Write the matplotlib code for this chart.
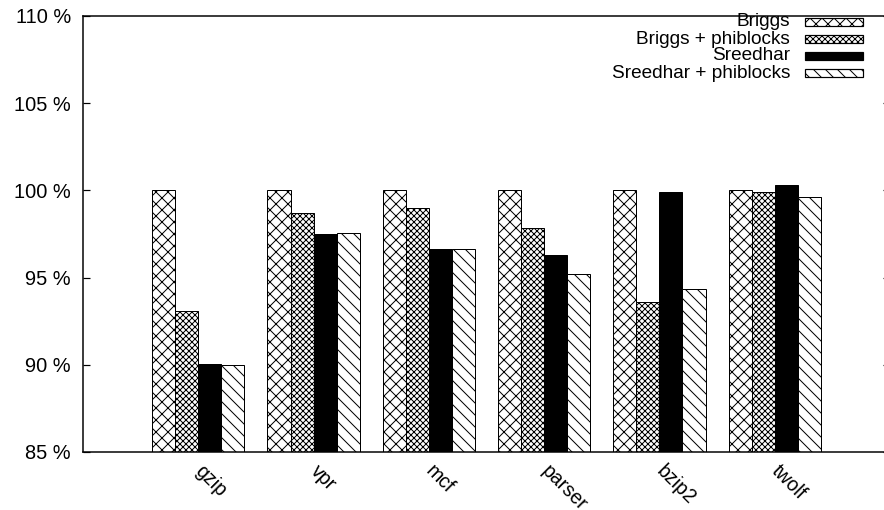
import numpy as np
import matplotlib
matplotlib.use("Agg")
import matplotlib.pyplot as plt
from matplotlib.patches import Rectangle

benchmarks = ["gzip", "vpr", "mcf", "parser", "bzip2", "twolf"]
series = ["Briggs", "Briggs + phiblocks", "Sreedhar", "Sreedhar + phiblocks"]
briggs = [100.0, 100.0, 100.0, 100.0, 100.0, 100.0]
briggs_phi = [93.08, 98.72, 99.01, 97.83, 93.58, 99.93]
sreedhar = [90.05, 97.48, 96.64, 96.30, 99.89, 100.29]
sreedhar_phi = [90.00, 97.54, 96.66, 95.22, 94.33, 99.60]
yticks = [85, 90, 95, 100, 105, 110]

# style per series: (facecolor, hatch)
STYLES = [("white", "xx"), ("white", "xxxx"), ("black", ""), ("white", "\\\\")]

plt.rcParams["font.family"] = ["Liberation Sans", "DejaVu Sans"]
plt.rcParams["hatch.linewidth"] = 1.0

fig = plt.figure(figsize=(884 / 72, 510 / 72), dpi=72)
ax = fig.add_axes([83 / 884, 58 / 510, 807 / 884, 436 / 510])

x = np.arange(len(benchmarks))
w = 0.2
values = [briggs, briggs_phi, sreedhar, sreedhar_phi]
for i, (vals, (fc, h)) in enumerate(zip(values, STYLES)):
    ax.bar(x + (i - 1.5) * w, vals, width=w, color=fc, hatch=h,
           edgecolor="black", linewidth=1.0, zorder=2)

ax.set_xlim(-1, 6)
ax.set_ylim(85, 110)
ax.set_yticks(yticks)
ax.set_yticklabels([f"{v} %" for v in yticks])
ax.set_xticks(x)
ax.set_xticklabels(benchmarks, rotation=-45, ha="left", va="center",
                   rotation_mode="anchor")
ax.tick_params(axis="x", length=0, pad=16, labelsize=19.5)
ax.tick_params(axis="y", direction="in", length=7, width=1.2, pad=12,
               labelsize=20, right=True)
for s in ax.spines.values():
    s.set_linewidth(1.5)

# legend drawn by hand: right-aligned text, sample box after it
tr = ax.transAxes
rows_px = [22, 39, 56, 73]
for lab, (fc, h), py in zip(series, STYLES, rows_px):
    yf = (452 - py) / 436
    ax.text((790 - 83) / 807, yf, lab, transform=tr, ha="right",
            va="center", fontsize=19)
    ax.add_patch(Rectangle(((805 - 83) / 807, yf - 4 / 436), 58 / 807,
                           8 / 436, transform=tr, facecolor=fc, hatch=h,
                           edgecolor="black", linewidth=1.2, clip_on=False))

fig.savefig("out.png", dpi=72)
